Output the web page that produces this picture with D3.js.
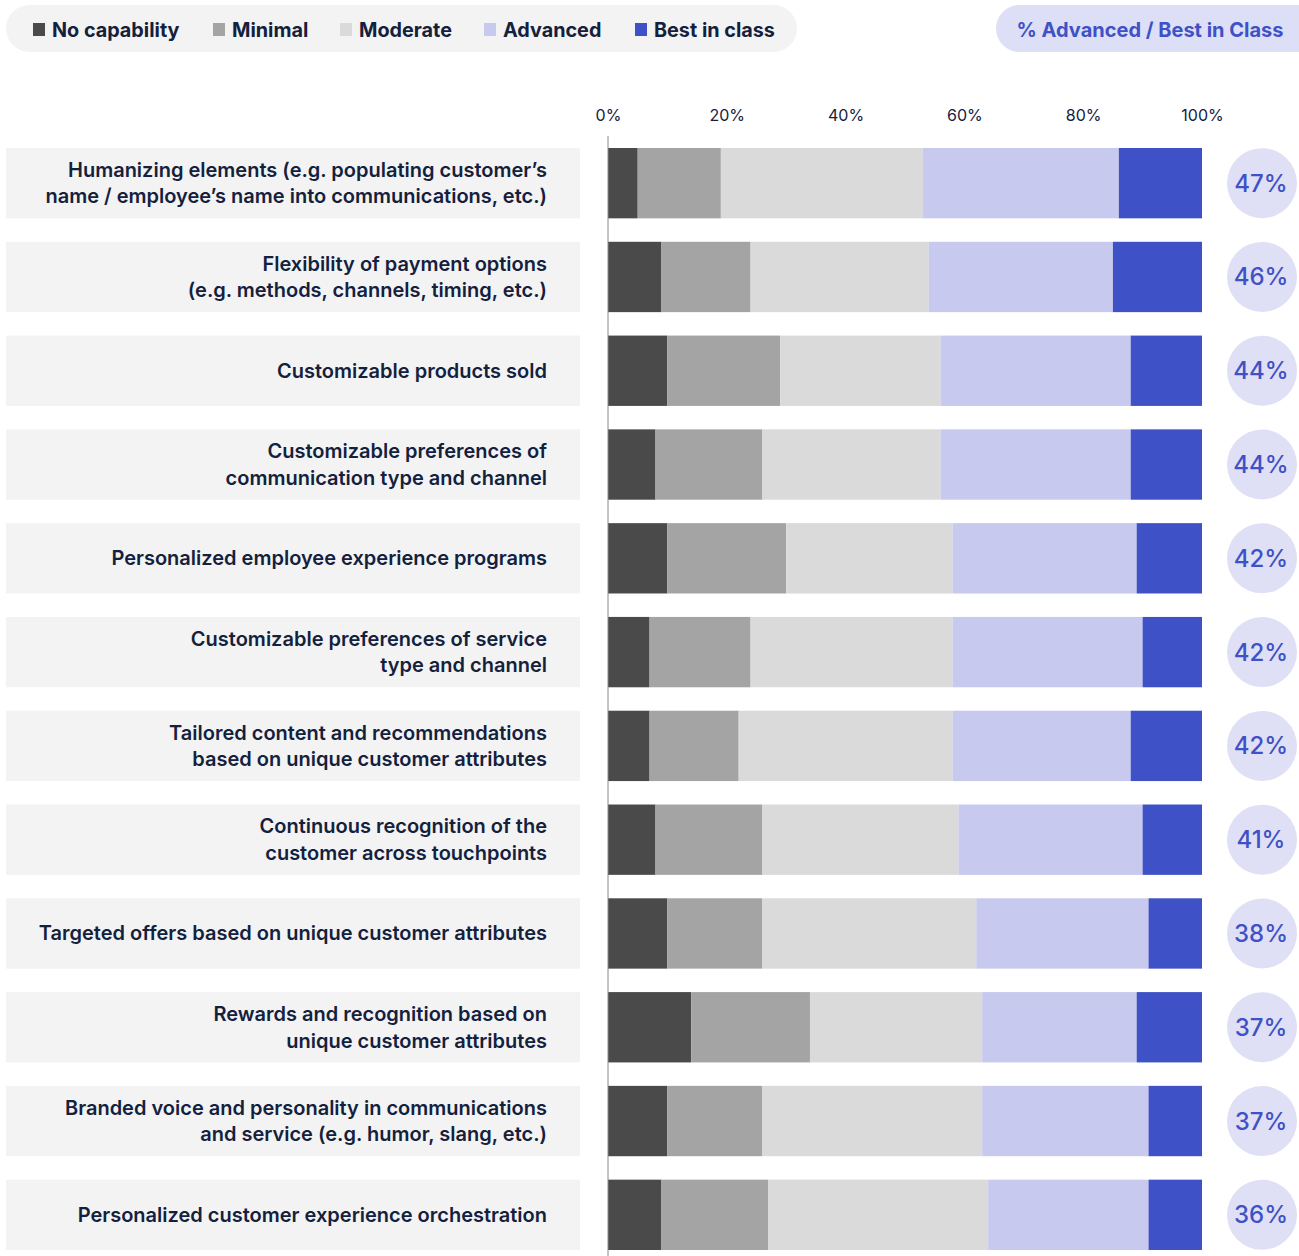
<!DOCTYPE html>
<html><head><meta charset="utf-8">
<script src="https://cdn.jsdelivr.net/npm/d3@7"></script>
<style>body{margin:0;background:#fff;font-family:Inter,"Open Sans",sans-serif;}</style>
</head><body><svg id="c" width="1299" height="1256"></svg>
<script>
const categories = [
 ["Humanizing elements (e.g. populating customer’s","name / employee’s name into communications, etc.)"],
 ["Flexibility of payment options","(e.g. methods, channels, timing, etc.)"],
 ["Customizable products sold"],
 ["Customizable preferences of","communication type and channel"],
 ["Personalized employee experience programs"],
 ["Customizable preferences of service","type and channel"],
 ["Tailored content and recommendations","based on unique customer attributes"],
 ["Continuous recognition of the","customer across touchpoints"],
 ["Targeted offers based on unique customer attributes"],
 ["Rewards and recognition based on","unique customer attributes"],
 ["Branded voice and personality in communications","and service (e.g. humor, slang, etc.)"],
 ["Personalized customer experience orchestration"]
];
const seriesNames = ["No capability","Minimal","Moderate","Advanced","Best in class"];
const noCapability = [5, 9, 10, 8, 10, 7, 7, 8, 10, 14, 10, 9];
const minimal      = [14,15, 19,18, 20,17, 15,18, 16, 20, 16, 18];
const moderate     = [34,30, 27,30, 28,34, 36,33, 36, 29, 37, 37];
const advanced     = [33,31, 32,32, 31,32, 30,31, 29, 26, 28, 27];
const bestInClass  = [14,15, 12,12, 11,10, 12,10, 9, 11, 9, 9];
const advBestLabels = ["47%","46%","44%","44%","42%","42%","42%","41%","38%","37%","37%","36%"];
const tickValues = [0,20,40,60,80,100];
const colors = ["#4a4a4a","#a4a4a4","#dadada","#c7c9ee","#3f51c6"];

const series = [noCapability, minimal, moderate, advanced, bestInClass];
const svg = d3.select("#c");
const textColor = "#14213d";

// Legend pill
svg.append("rect").attr("x",6).attr("y",5).attr("width",791).attr("height",47).attr("rx",23.5).attr("fill","#f3f3f3");
const legX = [33,213,340,484,635];
seriesNames.forEach((n,i)=>{
  const g = svg.append("g");
  g.append("rect").attr("x",legX[i]).attr("y",23).attr("width",12).attr("height",13).attr("fill",colors[i]);
  g.append("text").attr("x",legX[i]+19).attr("y",37).attr("font-size",19.8).attr("font-weight",700)
   .attr("fill",textColor).text(n);
});
// Right pill
svg.append("rect").attr("x",996).attr("y",5).attr("width",330).attr("height",47).attr("rx",23.5).attr("fill","#dcdff5");
svg.append("text").attr("x",1150).attr("y",37).attr("text-anchor","middle").attr("font-size",20).attr("font-weight",700)
  .attr("fill","#3f51c6").text("% Advanced / Best in Class");

const x = d3.scaleLinear().domain([0,100]).range([608,1202]);
const y = d3.scaleBand().domain(d3.range(categories.length)).range([148,1250]).paddingInner(0.25).paddingOuter(0);

// Axis ticks
const ax = svg.append("g").attr("transform","translate(0,121)")
  .call(d3.axisTop(x).tickValues(tickValues).tickFormat(d=>d+"%").tickSize(0).tickPadding(0));
ax.select(".domain").remove();
ax.selectAll("text").attr("font-size",16).attr("fill",textColor).attr("font-family","Inter,sans-serif");

// rows
const stacked = d3.stack().keys(d3.range(5))(categories.map((c,i)=>{const o={};series.forEach((s,k)=>o[k]=s[i]);return o;}));
categories.forEach((lines,i)=>{
  svg.append("rect").attr("x",6).attr("y",y(i)).attr("width",574).attr("height",y.bandwidth()).attr("fill","#f3f3f4");
  const cy = y(i)+y.bandwidth()/2;
  const t = svg.append("text").attr("text-anchor","end").attr("font-size",20).attr("font-weight",600).attr("fill",textColor);
  const lh = 26.5;
  lines.forEach((l,j)=>{
    t.append("tspan").attr("x",547).attr("y",cy + (j-(lines.length-1)/2)*lh + 7).text(l);
  });
});
stacked.forEach((layer,k)=>{
  svg.append("g").selectAll("rect").data(layer).join("rect")
    .attr("x",d=>x(d[0])).attr("width",d=>x(d[1])-x(d[0]))
    .attr("y",(d,i)=>y(i)).attr("height",y.bandwidth()).attr("fill",colors[k]);
});
// axis line
svg.append("line").attr("x1",x(0)).attr("x2",x(0)).attr("y1",136).attr("y2",1256).attr("stroke","#888").attr("stroke-width",1);

// circles
advBestLabels.forEach((l,i)=>{
  const cy = y(i)+y.bandwidth()/2;
  svg.append("ellipse").attr("cx",1262).attr("cy",cy).attr("rx",35).attr("ry",35).attr("fill","#dfe0f5");
  svg.append("text").attr("x",1261).attr("y",cy+8.5).attr("text-anchor","middle").attr("font-size",24).attr("font-weight",500)
    .attr("fill","#3f51c6").text(l);
});
</script></body></html>
